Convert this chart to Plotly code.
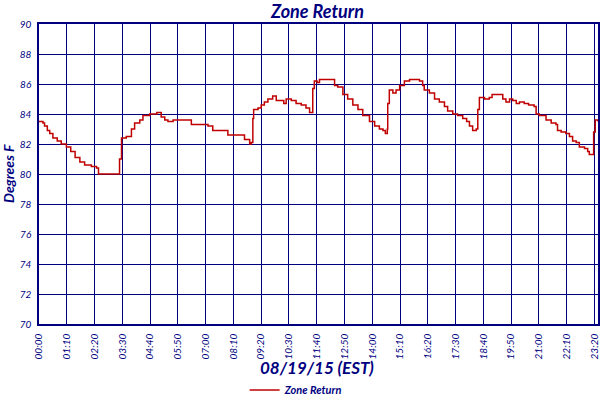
import plotly.graph_objects as go

# minutes since midnight
minutes = [0, 10, 14, 21, 27, 35, 46, 56, 69, 80, 91, 103, 115, 132, 145, 150, 199, 203, 208, 220,
           233, 241, 254, 262, 279, 297, 308, 317, 325, 338, 371, 384, 426, 438, 472, 476, 514, 518,
           531, 535, 539, 541, 552, 560, 568, 577, 589, 598, 611, 617, 623, 636, 648, 661, 673, 682,
           690, 694, 701, 707, 724, 736, 745, 753, 766, 778, 791, 804, 816, 833, 846, 858, 867, 873,
           878, 879, 883, 892, 900, 909, 921, 934, 946, 959, 967, 971, 984, 997, 1009, 1022, 1030,
           1043, 1055, 1068, 1078, 1085, 1093, 1102, 1106, 1110, 1123, 1135, 1142, 1165, 1169, 1177,
           1186, 1194, 1203, 1211, 1223, 1234, 1248, 1253, 1261, 1270, 1278, 1291, 1303, 1307, 1316,
           1328, 1337, 1345, 1354, 1362, 1375, 1383, 1387, 1395, 1398, 1402, 1409]
temps = [83.5, 83.4, 83.2, 82.9, 82.7, 82.4, 82.2, 82.0, 81.8, 81.5, 81.1, 80.8, 80.6, 80.5, 80.4,
         80.0, 80.0, 81.0, 82.4, 82.5, 83.0, 83.4, 83.6, 83.9, 84.0, 84.1, 83.8, 83.6, 83.5, 83.6,
         83.6, 83.3, 83.2, 82.9, 82.9, 82.6, 82.6, 82.3, 82.0, 82.1, 83.7, 84.3, 84.4, 84.6, 84.8,
         85.0, 85.2, 84.9, 84.9, 84.7, 85.0, 84.9, 84.7, 84.6, 84.4, 84.1, 85.7, 86.2, 86.1, 86.3,
         86.3, 86.3, 85.9, 85.8, 85.3, 85.0, 84.6, 84.3, 83.9, 83.5, 83.2, 83.0, 82.9, 82.7, 83.0,
         84.7, 85.6, 85.4, 85.6, 85.9, 86.2, 86.3, 86.3, 86.2, 85.9, 85.6, 85.4, 85.0, 84.8, 84.5,
         84.2, 84.0, 83.9, 83.7, 83.5, 83.2, 82.9, 83.0, 84.3, 85.1, 85.0, 85.1, 85.3, 85.3, 85.0,
         84.8, 85.0, 84.9, 84.7, 84.8, 84.7, 84.6, 84.5, 84.0, 83.9, 83.9, 83.6, 83.4, 83.3, 82.9,
         82.8, 82.7, 82.5, 82.2, 82.1, 81.8, 81.7, 81.5, 81.3, 81.3, 82.8, 83.6, 83.5]

tick_minutes = [0, 70, 140, 210, 280, 350, 420, 490, 560, 630, 700, 770, 840, 910, 980, 1050,
                1120, 1190, 1260, 1330, 1400, 1409]
tick_labels = ["00:00", "01:10", "02:20", "03:30", "04:40", "05:50", "07:00", "08:10", "09:20",
               "10:30", "11:40", "12:50", "14:00", "15:10", "16:20", "17:30", "18:40", "19:50",
               "21:00", "22:10", "23:20", "23:29"]
y_ticks = [70, 72, 74, 76, 78, 80, 82, 84, 86, 88, 90]

NAVY = "#00007f"
RED = "#c00000"
FONT = "Lato"

fig = go.Figure()
fig.add_trace(go.Scatter(x=minutes, y=temps, mode="lines", name="Zone Return",
                         line=dict(color=RED, width=1.5, shape="hv"), cliponaxis=False))

fig.update_layout(
    width=600, height=400,
    margin=dict(l=39, r=2, t=24, b=76),
    paper_bgcolor="white", plot_bgcolor="white",
    showlegend=True,
    legend=dict(orientation="h", x=0.46, xanchor="center", yref="container", y=0.025,
                yanchor="middle",
                font=dict(family=FONT, size=11, color=NAVY, style="italic", weight="bold"),
                itemwidth=30, bgcolor="rgba(0,0,0,0)"),
    xaxis=dict(range=[0, 1409], tickvals=tick_minutes, ticktext=tick_labels, tickangle=-90,
               automargin=False, layer="below traces", ticklabelstandoff=4,
               showgrid=True, gridcolor=NAVY, gridwidth=1.3, zeroline=False,
               showline=True, linecolor=NAVY, linewidth=1.5, mirror=True, ticks="",
               tickfont=dict(family=FONT, size=10, color=NAVY, style="italic")),
    yaxis=dict(range=[70, 90], tickvals=y_ticks, showgrid=True, gridcolor=NAVY, gridwidth=1.3,
               automargin=False, layer="below traces", ticklabelstandoff=4,
               zeroline=False, showline=True, linecolor=NAVY, linewidth=1.5, mirror=True,
               ticks="", tickfont=dict(family=FONT, size=10, color=NAVY, style="italic")),
    annotations=[
        dict(text="Zone Return", xref="paper", yref="paper", x=0.497, xanchor="center",
             y=1.0, yanchor="middle", yshift=13, showarrow=False,
             font=dict(family=FONT, size=18, color=NAVY, style="italic", weight="bold")),
        dict(text="Degrees F", xref="paper", yref="paper", x=0, xshift=-31, xanchor="center",
             y=0.5, yanchor="middle", textangle=-90, showarrow=False,
             font=dict(family=FONT, size=14, color=NAVY, style="italic", weight="bold")),
        dict(text="08/19/15 (EST)", xref="paper", yref="paper", x=0.497, xanchor="center",
             y=0, yanchor="middle", yshift=-43, showarrow=False,
             font=dict(family=FONT, size=17, color=NAVY, style="italic", weight="bold")),
    ],
)

fig.write_html("out.html", config={"displayModeBar": False},
               post_script="document.body.style.margin='0';document.body.style.overflow='hidden';")
